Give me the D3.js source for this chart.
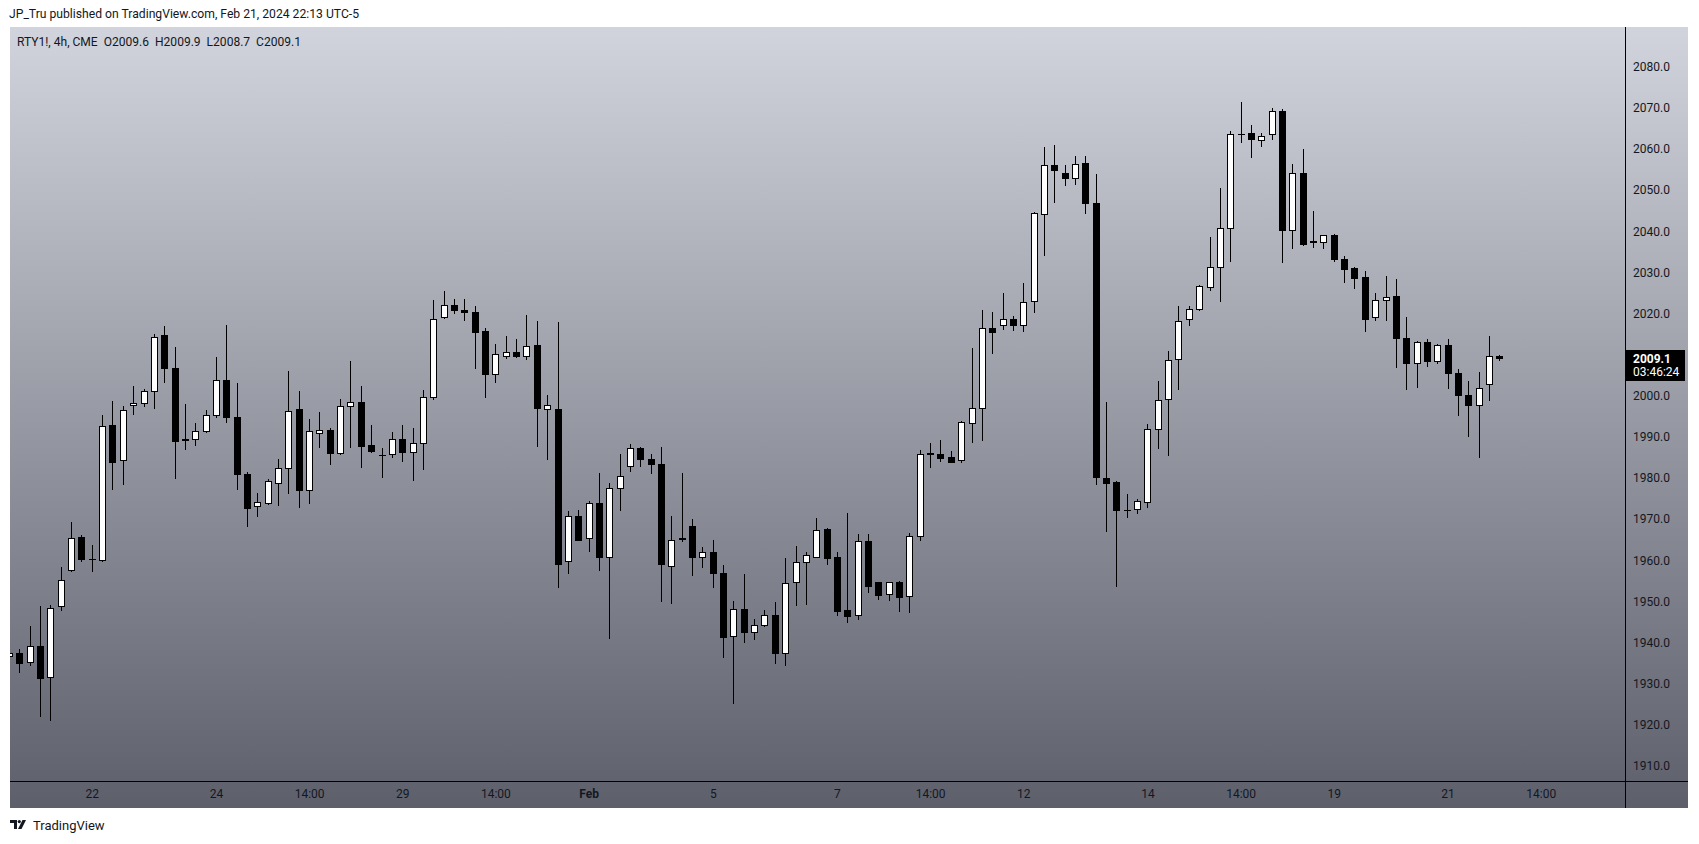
<!DOCTYPE html>
<html><head><meta charset="utf-8">
<script src="https://cdn.jsdelivr.net/npm/d3@7"></script>
<style>
html,body{margin:0;padding:0;background:#fff;overflow:hidden;}
svg{display:block;}
</style></head><body>
<svg id="c" width="1699" height="844"></svg>
<script>
// ---- data (RTY1!, 4h, CME) ----
const opens=[1936.8,1937.4,1935.2,1939.1,1931.5,1948.8,1957.6,1965.6,1960.3,1960.0,1992.8,1984.3,1997.7,1998.3,2001.1,2014.7,2006.7,1989.2,1989.6,1991.4,1995.2,2003.8,1994.8,1981.0,1973.3,1973.8,1978.9,1982.4,1996.8,1977.2,1990.9,1991.7,1986.0,1997.4,1998.4,1988.0,1985.7,1985.8,1989.4,1986.3,1988.4,1999.6,2019.1,2022.0,2020.8,2020.3,2015.7,2005.4,2009.6,2010.6,2009.6,2012.3,1996.7,1996.7,1959.7,1970.7,1965.3,1973.9,1960.7,1977.5,1982.9,1987.4,1984.5,1983.4,1958.6,1965.4,1968.3,1960.7,1962.0,1956.9,1941.5,1948.1,1942.5,1944.2,1946.7,1937.5,1954.6,1959.5,1960.9,1967.6,1960.7,1947.8,1946.6,1964.8,1954.6,1951.7,1954.6,1951.2,1965.8,1985.9,1985.8,1985.1,1984.3,1993.4,1996.9,2016.4,2017.1,2018.6,2017.1,2023.0,2044.1,2056.0,2054.1,2052.9,2056.5,2046.8,1979.9,1979.0,1972.1,1972.4,1974.1,1991.8,1999.1,2008.9,2018.6,2021.2,2026.4,2031.2,2040.7,2063.6,2064.0,2062.2,2063.6,2069.2,2040.2,2054.1,2037.5,2037.5,2039.0,2033.3,2031.0,2028.9,2019.1,2023.2,2024.2,2014.0,2007.9,2013.0,2008.4,2012.3,2005.5,2000.1,1997.7,2002.8,2009.6];
const highs=[1937.8,1938.4,1944.0,1948.9,1949.1,1958.3,1969.3,1966.1,1963.7,1995.3,1998.7,1997.5,2002.4,2001.7,2015.0,2017.0,2011.9,1998.0,1993.3,1996.5,2009.3,2017.2,2003.1,1981.4,1976.4,1979.7,1984.6,2006.0,2001.2,1994.3,1996.0,1992.2,1999.2,2008.4,2002.4,1992.9,1987.2,1991.2,1992.8,1992.2,2001.4,2023.3,2025.5,2023.5,2023.5,2021.8,2016.4,2012.5,2014.5,2013.7,2019.6,2018.1,2000.1,2017.9,1972.0,1972.2,1974.5,1981.3,1978.7,1985.8,1988.3,1987.5,1985.8,1987.5,1970.8,1981.3,1970.1,1963.3,1964.9,1958.8,1950.1,1956.7,1945.6,1947.9,1949.9,1960.5,1963.5,1962.0,1970.3,1967.8,1962.0,1971.5,1966.3,1966.3,1954.7,1954.7,1955.0,1966.6,1986.8,1988.5,1989.2,1986.6,1993.9,2011.7,2020.9,2020.4,2025.0,2019.4,2027.5,2044.7,2060.5,2060.9,2056.0,2058.3,2058.3,2053.9,1998.4,1979.3,1976.1,1974.8,1993.1,2003.6,2010.9,2021.8,2021.7,2026.9,2038.7,2050.5,2064.3,2071.4,2065.8,2064.0,2070.0,2069.8,2056.3,2060.0,2044.9,2039.1,2039.3,2033.9,2031.2,2030.3,2025.1,2029.1,2028.4,2019.2,2013.3,2013.7,2012.7,2013.7,2006.4,2003.5,2005.8,2014.6,2009.9];
const lows=[1936.5,1932.9,1934.5,1922.2,1921.2,1947.9,1957.5,1959.7,1957.5,1959.7,1977.4,1978.6,1995.6,1997.6,1997.1,2003.4,1980.1,1987.1,1988.1,1991.3,1994.9,1993.7,1977.4,1968.4,1970.8,1973.7,1973.5,1976.4,1973.0,1974.0,1987.6,1983.5,1985.9,1987.6,1982.6,1986.2,1980.3,1985.2,1984.2,1979.4,1982.3,1999.3,2019.0,2020.0,2018.3,2006.8,1999.6,2003.4,2009.1,2009.5,2009.0,1987.9,1984.7,1953.6,1956.8,1964.9,1962.3,1957.7,1941.2,1972.1,1981.8,1983.0,1981.1,1950.2,1949.5,1964.8,1956.5,1958.4,1953.6,1936.5,1925.4,1940.2,1940.9,1944.1,1934.9,1934.6,1949.0,1949.4,1960.8,1959.2,1946.8,1945.1,1945.8,1952.4,1950.7,1950.4,1947.7,1947.5,1965.0,1982.7,1984.2,1983.9,1984.0,1988.8,1989.2,2010.4,2016.3,2016.0,2015.8,2020.4,2034.1,2047.0,2051.3,2051.6,2044.4,1978.5,1967.2,1953.7,1970.6,1971.6,1973.0,1987.4,1985.7,2001.7,2017.2,2020.9,2025.7,2023.1,2032.8,2061.8,2058.1,2060.8,2062.5,2032.4,2035.8,2036.6,2036.2,2035.8,2032.8,2027.7,2026.3,2015.7,2018.3,2018.5,2007.1,2001.7,2002.2,2007.2,2008.0,2002.0,1995.4,1990.1,1985.2,1999.0,2008.7];
const closes=[1937.4,1935.1,1939.2,1931.3,1948.5,1955.1,1965.3,1960.2,1960.2,1992.7,1984.0,1996.5,1998.3,2001.1,2014.4,2006.8,1989.1,1989.6,1991.4,1995.2,2003.8,1994.8,1980.9,1972.8,1974.1,1979.2,1982.4,1996.2,1977.2,1991.4,1991.6,1986.0,1997.4,1998.4,1987.9,1986.6,1985.6,1989.6,1986.3,1988.4,1999.6,2018.6,2022.0,2020.8,2020.3,2015.4,2005.4,2010.1,2010.6,2009.6,2012.2,1996.9,1997.7,1959.2,1970.7,1965.0,1973.9,1960.9,1977.5,1980.6,1987.4,1984.5,1983.5,1959.0,1964.9,1965.2,1960.7,1961.9,1956.8,1941.4,1948.1,1942.6,1944.2,1946.6,1937.5,1954.4,1959.5,1961.2,1967.3,1960.6,1947.7,1946.5,1964.6,1953.8,1951.6,1954.6,1951.1,1965.8,1985.8,1986.0,1984.9,1984.0,1993.5,1996.9,2016.4,2015.6,2018.6,2017.1,2022.7,2044.4,2056.0,2054.8,2052.9,2056.4,2046.8,1980.2,1978.9,1972.1,1972.2,1974.3,1991.8,1998.9,2008.6,2018.1,2021.0,2026.6,2031.2,2040.7,2063.6,2063.7,2062.3,2063.2,2069.2,2040.4,2054.1,2037.0,2037.6,2039.0,2033.3,2030.9,2028.7,2018.7,2023.2,2023.9,2014.1,2007.9,2013.0,2008.5,2012.3,2005.5,2000.3,1997.8,2001.8,2009.6,2009.1];
const priceTicks=[1910,1920,1930,1940,1950,1960,1970,1980,1990,2000,2020,2030,2040,2050,2060,2070,2080];
const timeLabels=["22","24","14:00","29","14:00","Feb","5","7","14:00","12","14","14:00","19","21","14:00"];
const timeLabelBars=[8,20,29,38,47,56,68,80,89,98,110,119,128,139,148];
const boldLabels=["Feb"];
const headerText="JP_Tru published on TradingView.com, Feb 21, 2024 22:13 UTC-5";
const legendText="RTY1!, 4h, CME  O2009.6  H2009.9  L2008.7  C2009.1";
const lastPrice=2009.1, countdown="03:46:24";

// ---- layout ----
const W=1699,H=844;
const box={l:10,t:27,r:1688,b:808};
const paneR=1625, axisY=781;
const FONT='Roboto, "Liberation Sans", Arial, sans-serif';
const svg=d3.select("#c");

const x=d3.scaleLinear().domain([0,144]).range([8.95,1499.35]);
const y=d3.scaleLinear().domain([2080,1910]).range([66.7,765.9]);

const defs=svg.append("defs");
const g=defs.append("linearGradient").attr("id","bg").attr("x1",0).attr("y1",0).attr("x2",0).attr("y2",1);
g.append("stop").attr("offset","0%").attr("stop-color","#d1d4dc");
g.append("stop").attr("offset","100%").attr("stop-color","#5d606b");
defs.append("clipPath").attr("id","pane").append("rect")
  .attr("x",box.l).attr("y",box.t).attr("width",paneR-box.l).attr("height",axisY-box.t);

svg.append("rect").attr("x",0).attr("y",0).attr("width",W).attr("height",H).attr("fill","#fff");
svg.append("rect").attr("x",box.l).attr("y",box.t).attr("width",box.r-box.l).attr("height",box.b-box.t)
  .attr("fill","url(#bg)");

// header + legend
svg.append("text").attr("x",9).attr("y",18).attr("font-family",FONT).attr("font-size",13)
  .attr("fill","#131722").attr("textLength",350).attr("lengthAdjust","spacingAndGlyphs").text(headerText);
svg.append("text").attr("x",17).attr("y",45.5).attr("font-family",FONT).attr("font-size",12.5)
  .attr("fill","#131722").attr("xml:space","preserve").style("white-space","pre")
  .attr("textLength",284).attr("lengthAdjust","spacingAndGlyphs").text(legendText);

// candles
const data=opens.map((o,i)=>({i,o,h:highs[i],l:lows[i],c:closes[i]}));
const cg=svg.append("g").attr("clip-path","url(#pane)");
const cand=cg.selectAll("g.k").data(data).join("g").attr("class","k");
cand.append("line")
  .attr("x1",d=>Math.round(x(d.i))+0.5).attr("x2",d=>Math.round(x(d.i))+0.5)
  .attr("y1",d=>Math.round(y(d.h))).attr("y2",d=>Math.round(y(d.l))+1)
  .attr("stroke","#000").attr("stroke-width",1);
cand.each(function(d){
  const s=d3.select(this);
  const cx=Math.round(x(d.i));
  const top=Math.round(y(Math.max(d.o,d.c))), bot=Math.round(y(Math.min(d.o,d.c)));
  if(bot-top<2){
    s.append("rect").attr("x",cx-3).attr("y",top).attr("width",7).attr("height",Math.max(1,bot-top+1)).attr("fill","#000");
  } else {
    s.append("rect").attr("x",cx-2.5).attr("y",top+0.5).attr("width",6).attr("height",bot-top)
      .attr("fill",d.c>=d.o?"#fff":"#000").attr("stroke","#000").attr("stroke-width",1);
  }
});

// price axis
const ya=svg.append("g").attr("transform",`translate(${paneR},0)`)
  .call(d3.axisRight(y).tickValues(priceTicks).tickSize(0).tickPadding(8).tickFormat(d=>d.toFixed(1)));
ya.select(".domain").remove();
ya.selectAll("text").attr("font-family",FONT).attr("font-size",12).attr("fill","#131722");

// time axis
const xa=svg.append("g").attr("transform",`translate(0,${axisY})`)
  .call(d3.axisBottom(x).tickValues(timeLabelBars).tickSize(0).tickPadding(8).tickFormat((d,i)=>timeLabels[i]));
xa.select(".domain").remove();
xa.selectAll("text").attr("font-family",FONT).attr("font-size",12).attr("fill","#131722")
  .attr("font-weight",(d,i)=>boldLabels.includes(timeLabels[i])?"bold":"normal");

// separators
svg.append("line").attr("x1",paneR+0.5).attr("x2",paneR+0.5).attr("y1",box.t).attr("y2",box.b).attr("stroke","#000");
svg.append("line").attr("x1",box.l).attr("x2",box.r).attr("y1",axisY+0.5).attr("y2",axisY+0.5).attr("stroke","#000");

// last price label
const ly=y(lastPrice);
svg.append("rect").attr("x",paneR+1).attr("y",Math.round(ly)-8).attr("width",59).attr("height",31).attr("fill","#000");
svg.append("text").attr("x",paneR+8).attr("y",ly+4.5).attr("font-family",FONT).attr("font-size",12)
  .attr("font-weight","bold").attr("fill","#fff").text(lastPrice.toFixed(1));
svg.append("text").attr("x",paneR+8).attr("y",ly+18).attr("font-family",FONT).attr("font-size",12)
  .attr("fill","#fff").text(countdown);

// footer logo
const lg=svg.append("g").attr("transform","translate(10,820)").attr("fill","#131722");
lg.append("path").attr("d","M0,0 H7 V9 H4 V3 H0 Z");
lg.append("circle").attr("cx",9.3).attr("cy",1.6).attr("r",1.6);
lg.append("path").attr("d","M12.5,0 H16 L11.5,9 H8 Z");
svg.append("text").attr("x",33).attr("y",830).attr("font-family",FONT).attr("font-size",13)
  .attr("fill","#131722").text("TradingView");
</script>
</body></html>
